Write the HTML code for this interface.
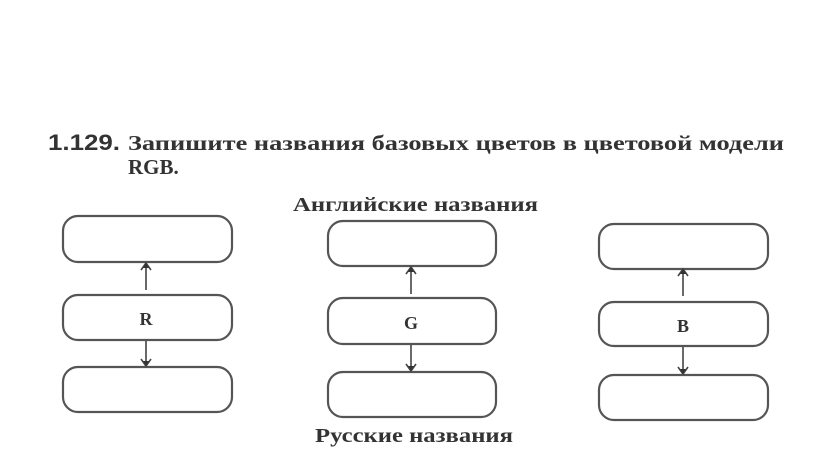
<!DOCTYPE html>
<html><head><meta charset="utf-8"><style>
html,body{margin:0;padding:0;background:#fff;}
svg{display:block;}
text{font-family:"Liberation Serif","Noto Serif CJK SC",serif;fill:#333;}
</style></head><body>
<svg width="816" height="470" viewBox="0 0 816 470" xmlns="http://www.w3.org/2000/svg">
<g fill="none" stroke="#555" stroke-width="2.2">
<rect x="63" y="216" width="169" height="46" rx="15"/>
<rect x="63" y="295" width="169" height="45" rx="15"/>
<rect x="63" y="367" width="169" height="45" rx="15"/>
<rect x="328" y="221" width="168" height="45" rx="15"/>
<rect x="328" y="298" width="168" height="46" rx="15"/>
<rect x="328" y="372" width="168" height="45" rx="15"/>
<rect x="599" y="224" width="169" height="45" rx="15"/>
<rect x="599" y="302" width="169" height="44" rx="15"/>
<rect x="599" y="375" width="169" height="45" rx="15"/>
</g>
<g stroke="#444" stroke-width="1.6" fill="none">
<line x1="146" y1="264" x2="146" y2="290"/><polyline points="141,270 146,263 151,270"/>
<line x1="146" y1="341" x2="146" y2="366"/><polyline points="141,359 146,366 151,359"/>
<line x1="411" y1="268" x2="411" y2="294"/><polyline points="406,274 411,267 416,274"/>
<line x1="411" y1="345" x2="411" y2="371"/><polyline points="406,364 411,371 416,364"/>
<line x1="683" y1="270" x2="683" y2="296"/><polyline points="678,276 683,269 688,276"/>
<line x1="683" y1="347" x2="683" y2="374"/><polyline points="678,367 683,374 688,367"/>
</g>
<g fill="#333">
<polygon points="143,268 146,263 149,268"/><polygon points="143,361 146,366 149,361"/>
<polygon points="408,272 411,267 414,272"/><polygon points="408,366 411,371 414,366"/>
<polygon points="680,274 683,269 686,274"/><polygon points="680,369 683,374 686,369"/>
</g>
<text x="146" y="325" font-size="18" font-weight="bold" text-anchor="middle">R</text>
<text x="411" y="329" font-size="18" font-weight="bold" text-anchor="middle">G</text>
<text x="683" y="332" font-size="18" font-weight="bold" text-anchor="middle">B</text>
<text x="48" y="150" font-size="22" font-weight="bold" textLength="72" lengthAdjust="spacingAndGlyphs" style="font-family:'Liberation Sans',sans-serif">1.129.</text>
<text x="128" y="150" font-size="21" font-weight="bold" textLength="656" lengthAdjust="spacingAndGlyphs">Запишите  названия  базовых  цветов  в  цветовой  модели</text>
<text x="128" y="174" font-size="21" font-weight="bold">RGB.</text>
<text x="293" y="211" font-size="20" font-weight="bold" textLength="245" lengthAdjust="spacingAndGlyphs">Английские названия</text>
<text x="315" y="442" font-size="20" font-weight="bold" textLength="198" lengthAdjust="spacingAndGlyphs">Русские названия</text>
</svg>
</body></html>
